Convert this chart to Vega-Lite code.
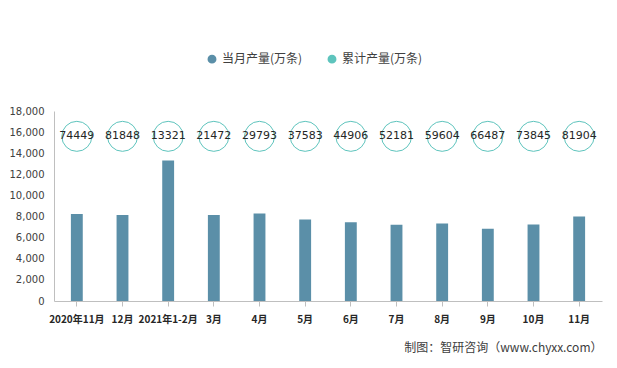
{
  "$schema": "https://vega.github.io/schema/vega-lite/v6.json",
  "width": 548,
  "height": 190,
  "autosize": {"type": "none"},
  "padding": {"left": 54, "top": 111, "right": 15, "bottom": 67},
  "background": "white",
  "config": {"view": {"stroke": null}},
  "title": {
    "text": "近一年中国橡胶轮胎外胎当月产量及累计产量统计图",
    "font": "Noto Sans CJK SC",
    "fontSize": 19,
    "fontWeight": "bold",
    "color": "#262626",
    "anchor": "middle",
    "offset": 76,
    "dx": -17
  },
  "data": {
    "values": [
      {"month": "2020年11月", "monthly": 8250, "cumulative": 74449},
      {"month": "12月", "monthly": 8150, "cumulative": 81848},
      {"month": "2021年1-2月", "monthly": 13321, "cumulative": 13321},
      {"month": "3月", "monthly": 8151, "cumulative": 21472},
      {"month": "4月", "monthly": 8280, "cumulative": 29793},
      {"month": "5月", "monthly": 7720, "cumulative": 37583},
      {"month": "6月", "monthly": 7450, "cumulative": 44906},
      {"month": "7月", "monthly": 7230, "cumulative": 52181},
      {"month": "8月", "monthly": 7350, "cumulative": 59604},
      {"month": "9月", "monthly": 6850, "cumulative": 66487},
      {"month": "10月", "monthly": 7250, "cumulative": 73845},
      {"month": "11月", "monthly": 8000, "cumulative": 81904}
    ]
  },
  "encoding": {
    "x": {
      "field": "month",
      "type": "nominal",
      "sort": null,
      "scale": {"paddingInner": 0.74, "paddingOuter": 0.37},
      "axis": {
        "title": "制图：智研咨询（www.chyxx.com）",
        "titleFont": "Noto Sans CJK SC",
        "titleFontSize": 12,
        "titleFontWeight": "normal",
        "titleColor": "#404040",
        "titleAnchor": "end",
        "titlePadding": 18,
        "labelAngle": 0,
        "labelFont": "Noto Sans CJK SC",
        "labelFontSize": 10,
        "labelFontWeight": "bold",
        "labelColor": "#262626",
        "labelPadding": 8,
        "tickSize": 5,
        "tickColor": "#bfbfbf",
        "domainColor": "#bfbfbf"
      }
    },
    "y": {
      "type": "quantitative",
      "scale": {"domain": [0, 18000], "nice": false},
      "axis": {
        "title": null,
        "values": [0, 2000, 4000, 6000, 8000, 10000, 12000, 14000, 16000, 18000],
        "format": ",.0f",
        "grid": false,
        "ticks": false,
        "domainColor": "#bfbfbf",
        "labelFont": "DejaVu Sans",
        "labelFontSize": 10,
        "labelColor": "#404040",
        "labelPadding": 10
      }
    }
  },
  "layer": [
    {
      "mark": {"type": "bar"},
      "encoding": {
        "y": {"field": "monthly", "type": "quantitative"},
        "color": {
          "datum": "当月产量(万条)",
          "scale": {"domain": ["当月产量(万条)", "累计产量(万条)"], "range": ["#5b8fa8", "#5ec4bd"]},
          "legend": {
            "title": null,
            "orient": "none",
            "direction": "horizontal",
            "legendX": 152,
            "legendY": -58,
            "labelFont": "Noto Sans CJK SC",
            "labelFontSize": 12,
            "labelColor": "#404040",
            "symbolSize": 55,
            "columnPadding": 22,
            "labelOffset": 4
          }
        }
      }
    },
    {
      "mark": {"type": "point", "shape": "circle", "filled": false, "size": 900, "strokeWidth": 1, "opacity": 1},
      "encoding": {
        "y": {"datum": 15600, "type": "quantitative"},
        "color": {"datum": "累计产量(万条)"}
      }
    },
    {
      "mark": {"type": "text", "font": "DejaVu Sans", "fontSize": 11, "color": "#262626", "baseline": "middle"},
      "encoding": {
        "y": {"datum": 15600, "type": "quantitative"},
        "text": {"field": "cumulative", "type": "nominal"}
      }
    }
  ]
}
